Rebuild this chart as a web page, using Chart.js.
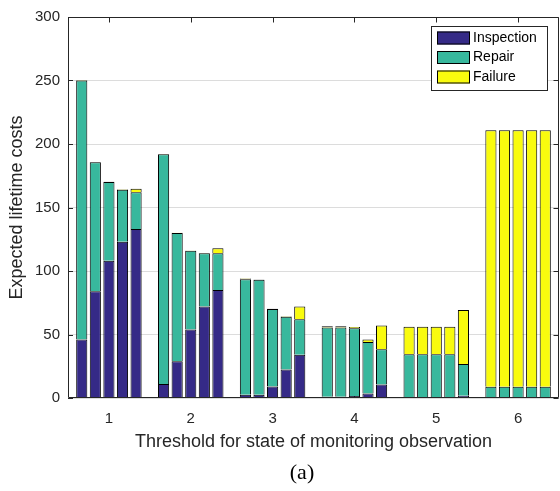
<!DOCTYPE html>
<html>
<head>
<meta charset="utf-8">
<script src="https://cdn.jsdelivr.net/npm/chart.js@4/dist/chart.umd.min.js"></script>
<style>
  html, body { margin: 0; padding: 0; background: #fff; }
  #wrap { width: 560px; height: 491px; position: relative; }
</style>
</head>
<body>
<div id="wrap"><canvas id="c" width="560" height="491"></canvas></div>
<script>
// ---- data ----
const categories = ['1', '2', '3', '4', '5', '6'];
const seriesNames = ['Inspection', 'Repair', 'Failure'];
const seriesColors = ['#352a87', '#38b89d', '#f9fb0e'];
// rows: threshold 1..6, columns: the five bars within each threshold group
const inspection = [
  [46, 84, 108, 123, 133],
  [11, 29, 54, 72, 85],
  [2.6, 2.6, 9, 22.5, 34],
  [1, 1, 1.5, 3.6, 10.6],
  [0.8, 0.8, 0.8, 0.8, 1.8],
  [0.3, 0.3, 0.3, 0.3, 0.3]
];
const repair = [
  [204, 101.6, 62, 41, 29],
  [181, 101, 62, 42, 29],
  [91, 90.5, 61, 41.5, 28],
  [54.5, 54.5, 53.5, 40.5, 27.7],
  [33.6, 33.6, 33.6, 33.6, 25],
  [8.5, 8.5, 8.5, 8.5, 8.5]
];
const failure = [
  [0.3, 0.2, 0.2, 0.3, 2.7],
  [0.2, 0.2, 0.2, 0.2, 4],
  [0.5, 0.2, 0.2, 0.3, 10],
  [1, 1, 1, 2, 18.7],
  [21.7, 21.7, 21.7, 21.7, 42.5],
  [202, 202, 202, 202, 202]
];
const yTicks = [0, 50, 100, 150, 200, 250, 300];

const FONT = "'Liberation Sans', Arial, sans-serif";
const AXIS = '#262626';

const series = [inspection, repair, failure];
const datasets = [];
for (let b = 0; b < 5; b++) {
  for (let s = 0; s < 3; s++) {
    datasets.push({
      label: seriesNames[s],
      data: categories.map((c, g) => series[s][g][b]),
      backgroundColor: seriesColors[s],
      borderColor: '#000',
      borderWidth: 1,
      borderSkipped: 'start',
      stack: 'bar' + b,
      categoryPercentage: 0.83,
      barPercentage: 0.82
    });
  }
}

const framePlugin = {
  id: 'frame',
  beforeDatasetsDraw(chart) {
    const {ctx, chartArea: a, scales: {x, y}} = chart;
    ctx.save();
    ctx.strokeStyle = AXIS;
    ctx.lineWidth = 1;
    ctx.beginPath();
    categories.forEach((c, i) => {
      const px = Math.round(x.getPixelForValue(i)) + 0.5;
      ctx.moveTo(px, a.bottom); ctx.lineTo(px, a.bottom - 5);
    });
    yTicks.forEach(v => {
      const py = Math.round(y.getPixelForValue(v)) + 0.5;
      ctx.moveTo(a.left, py); ctx.lineTo(a.left + 5, py);
    });
    ctx.stroke();
    ctx.restore();
  },
  afterDatasetsDraw(chart) {
    const {ctx, chartArea: a, scales: {x, y}} = chart;
    ctx.save();
    ctx.strokeStyle = AXIS;
    ctx.lineWidth = 1;
    ctx.beginPath();
    const L = Math.round(a.left) + 0.5, R = Math.round(a.right) - 0.5;
    const T = Math.round(a.top) + 0.5, B = Math.round(a.bottom) - 0.5;
    ctx.moveTo(L, B); ctx.lineTo(R, B); ctx.lineTo(R, T); ctx.lineTo(L, T); ctx.lineTo(L, B);
    categories.forEach((c, i) => {
      const px = Math.round(x.getPixelForValue(i)) + 0.5;
      ctx.moveTo(px, T); ctx.lineTo(px, T + 5);
    });
    yTicks.forEach(v => {
      const py = Math.round(y.getPixelForValue(v)) + 0.5;
      ctx.moveTo(R, py); ctx.lineTo(R - 5, py);
    });
    ctx.stroke();

    // legend box
    const bx = 431.5, by = 26.5, bw = 116, bh = 64;
    ctx.fillStyle = '#fff';
    ctx.fillRect(bx, by, bw, bh);
    ctx.strokeStyle = AXIS;
    ctx.strokeRect(bx, by, bw, bh);
    const rows = [38, 57.5, 77];
    seriesNames.forEach((n, i) => {
      const ry = rows[i];
      ctx.fillStyle = seriesColors[i];
      ctx.fillRect(437, ry - 6.5, 33, 13);
      ctx.strokeStyle = '#000';
      ctx.strokeRect(437.5, ry - 6, 32, 12);
      ctx.fillStyle = '#000';
      ctx.font = '14px ' + FONT;
      ctx.textAlign = 'left';
      ctx.textBaseline = 'middle';
      ctx.fillText(n, 473, ry);
    });

    // panel label
    ctx.fillStyle = '#000';
    ctx.font = "22px 'Liberation Serif', 'Times New Roman', serif";
    ctx.textAlign = 'center';
    ctx.textBaseline = 'middle';
    ctx.fillText('(a)', 302, 473);
    ctx.restore();
  }
};

new Chart(document.getElementById('c'), {
  type: 'bar',
  data: { labels: categories, datasets },
  options: {
    responsive: false,
    animation: false,
    events: [],
    layout: { padding: { left: 0, right: 1, top: 10, bottom: 0 } },
    plugins: { legend: { display: false }, tooltip: { enabled: false } },
    scales: {
      x: {
        stacked: true,
        grid: { display: false, drawTicks: false },
        border: { display: false },
        ticks: { font: { family: FONT, size: 15 }, color: AXIS, padding: 12 },
        title: {
          display: true,
          text: 'Threshold for state of monitoring observation',
          font: { family: FONT, size: 18 },
          color: AXIS,
          padding: { top: 0, bottom: 38 }
        },
        afterFit(s) { s.height = 93; }
      },
      y: {
        stacked: true,
        min: 0, max: 300,
        afterBuildTicks(s) { s.ticks = yTicks.map(v => ({ value: v })); },
        grid: { color: '#dcdcdc', drawTicks: false, lineWidth: 1 },
        border: { display: false },
        ticks: { font: { family: FONT, size: 15 }, color: AXIS, padding: 8 },
        title: {
          display: true,
          text: 'Expected lifetime costs',
          font: { family: FONT, size: 18 },
          color: AXIS,
          padding: { top: 6, bottom: 0 }
        },
        afterFit(s) { s.width = 68; }
      }
    }
  },
  plugins: [framePlugin]
});
</script>
</body>
</html>
